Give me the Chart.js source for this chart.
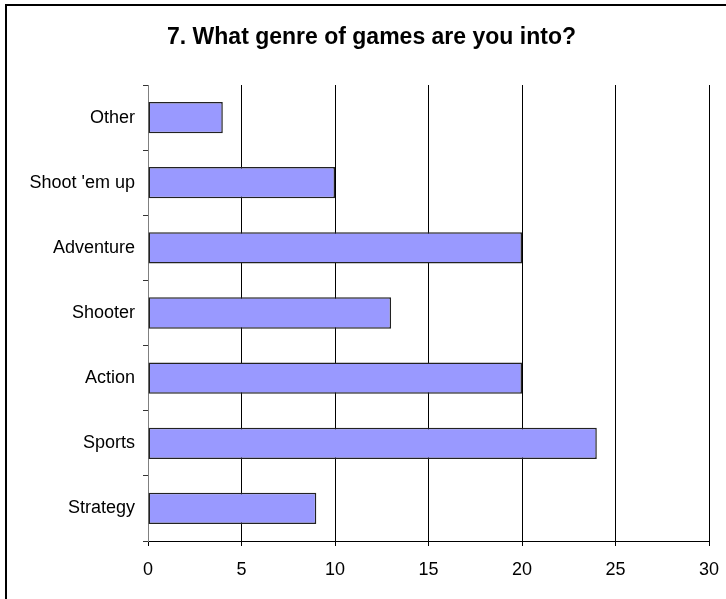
<!DOCTYPE html>
<html>
<head>
<meta charset="utf-8">
<script src="https://cdn.jsdelivr.net/npm/chart.js@4/dist/chart.umd.min.js"></script>
<style>
    html, body { margin: 0; padding: 0; background: #fff; overflow: hidden; }
    #wrap { position: relative; width: 726px; height: 599px; }
    #frame {
        position: absolute; left: 5px; top: 4px; width: 800px; height: 700px;
        border-left: 2px solid #000; border-top: 2px solid #000;
    }
    #genreChart { position: absolute; left: 0; top: 0; }
</style>
</head>
<body>
<div id="wrap">
    <div id="frame"></div>
    <canvas id="genreChart" width="726" height="599"></canvas>
</div>
<script>
const titulo = '7. What genre of games are you into?';
const generos = ['Other', "Shoot 'em up", 'Adventure', 'Shooter', 'Action', 'Sports', 'Strategy'];
const qtde = [4, 10, 20, 13, 20, 24, 9];
const ticks_x = [0, 5, 10, 15, 20, 25, 30];

const fonte = "'Liberation Sans', Arial, sans-serif";
const cor_barra = '#9999FF';

function genreChart() {
    const ctx = document.getElementById('genreChart');

    new Chart(ctx, {
        type: 'bar',
        data: {
            labels: generos,
            datasets: [{
                data: qtde,
                backgroundColor: cor_barra,
                borderColor: '#222',
                borderWidth: 1.5,
                borderSkipped: false,
                categoryPercentage: 1,
                barPercentage: 0.48
            }]
        },
        options: {
            indexAxis: 'y',
            responsive: false,
            animation: false,
            layout: {
                padding: { left: 17, right: 0, top: 0, bottom: 0 }
            },
            plugins: {
                legend: { display: false },
                tooltip: { enabled: false },
                title: {
                    display: true,
                    text: titulo,
                    color: '#000',
                    font: { family: fonte, size: 23, weight: 'bold' },
                    padding: { top: 24, bottom: 33.4 }
                }
            },
            scales: {
                x: {
                    min: 0,
                    max: 30,
                    afterBuildTicks: (axis) => {
                        axis.ticks = ticks_x.map((v) => ({ value: v }));
                    },
                    afterFit: (axis) => {
                        axis.height = 58;
                        axis.paddingLeft = 0;
                        axis.paddingRight = 17;
                    },
                    grid: {
                        color: '#000',
                        lineWidth: 1,
                        tickLength: 5
                    },
                    border: { display: true, color: '#000', width: 1 },
                    ticks: {
                        color: '#000',
                        padding: 13,
                        maxRotation: 0,
                        font: { family: fonte, size: 18 }
                    }
                },
                y: {
                    afterFit: (axis) => { axis.width = 131; },
                    grid: {
                        drawOnChartArea: false,
                        color: '#333',
                        tickLength: 5
                    },
                    border: { display: true, color: '#808080', width: 1 },
                    ticks: {
                        color: '#000',
                        padding: 8,
                        font: { family: fonte, size: 18 }
                    }
                }
            }
        }
    });
}

genreChart();
</script>
</body>
</html>
